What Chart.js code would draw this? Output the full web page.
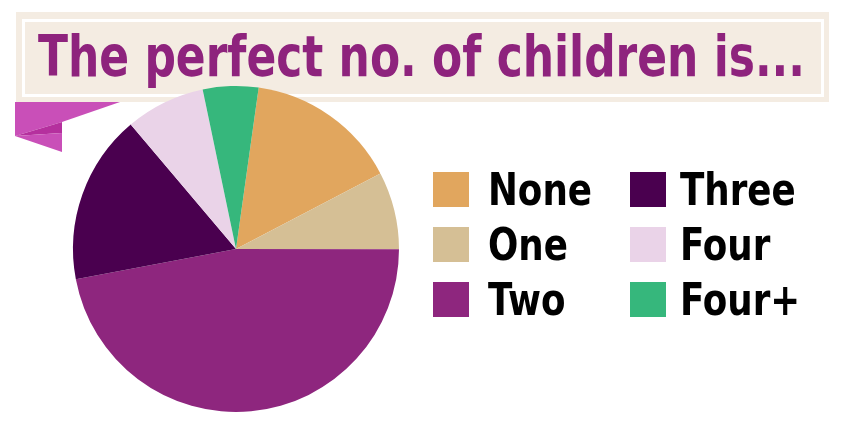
<!DOCTYPE html>
<html>
<head>
<meta charset="utf-8">
<script src="https://cdn.jsdelivr.net/npm/chart.js@4"></script>
<style>
  html, body { margin: 0; padding: 0; background: #fff; }
  #wrap { position: relative; width: 850px; height: 430px; overflow: hidden; }
  #banner { position: absolute; left: 16px; top: 12px; width: 813px; height: 90px; background: #F4ECE2; }
  #bannerLine { position: absolute; left: 22px; top: 19px; width: 802px; height: 78px; box-sizing: border-box; border: 3px solid #fff; }
  #ribbon { position: absolute; left: 0; top: 0; }
  .txt { position: absolute; white-space: nowrap; display: inline-block; line-height: 1;
         font-family: "DejaVu Sans Condensed", "DejaVu Sans", sans-serif; font-weight: bold;
         transform-origin: 0 0; }
  #title { left: 38px; top: 28px; font-size: 57.6px; color: #8E237D; }
  #pie { position: absolute; left: 0; top: 0; }
  .box { position: absolute; width: 36px; height: 35px; }
  .lab { font-size: 44px; color: #000; }
</style>
</head>
<body>
<div id="wrap">
  <div id="banner"></div>
  <div id="bannerLine"></div>
  <svg id="ribbon" width="130" height="160">
    <polygon points="15,102 120,102 62,122 15,136" fill="#C94FB8"/>
    <polygon points="15,136 62,122 62,133" fill="#B5309E"/>
    <polygon points="15,136 62,133 62,152" fill="#C94FB8"/>
  </svg>
  <div id="title" class="txt">The perfect no. of children is...</div>
  <canvas id="pie" width="850" height="430"></canvas>
  <div id="legend"></div>
</div>
<script>
var categories = ['None', 'One', 'Two', 'Three', 'Four', 'Four+'];
var shares = [15.1, 7.7, 47.0, 16.8, 7.9, 5.5];
var sliceColors = ['#E1A65E', '#D5BF95', '#8E267E', '#4A004F', '#EAD3E8', '#36B77C'];

var ctx = document.getElementById('pie').getContext('2d');
var myChart = new Chart(ctx, {
    type: 'pie',
    data: {
        labels: categories,
        datasets: [
            {
                data: shares,
                backgroundColor: sliceColors,
                borderWidth: 0,
                hoverOffset: 0
            }
        ]
    },
    options: {
        responsive: false,
        animation: false,
        rotation: 8,
        layout: { padding: { left: 73, right: 451, top: 86, bottom: 18 } },
        plugins: {
            legend: { display: false },
            tooltip: { enabled: false }
        }
    }
});

// legend: two columns of three, built from the same arrays
var legend = document.getElementById('legend');
categories.forEach(function (name, i) {
    var col = Math.floor(i / 3), row = i % 3;
    var box = document.createElement('div');
    box.className = 'box';
    box.style.left = (433 + col * 197) + 'px';
    box.style.top = (172 + row * 55) + 'px';
    box.style.background = sliceColors[i];
    legend.appendChild(box);
    var lab = document.createElement('div');
    lab.className = 'txt lab';
    lab.textContent = name;
    lab.style.left = (488 + col * 192) + 'px';
    lab.style.top = (168 + row * 55) + 'px';
    legend.appendChild(lab);
});

// squeeze text to the condensed look of the original
function squeeze(el, w) {
    var r = el.getBoundingClientRect().width;
    el.style.transform = 'scaleX(' + (w / r) + ')';
}
squeeze(document.getElementById('title'), 767);
var labs = document.querySelectorAll('.lab');
var k = 104 / labs[0].getBoundingClientRect().width;
labs.forEach(function (el) { el.style.transform = 'scaleX(' + k + ')'; });
</script>
</body>
</html>
